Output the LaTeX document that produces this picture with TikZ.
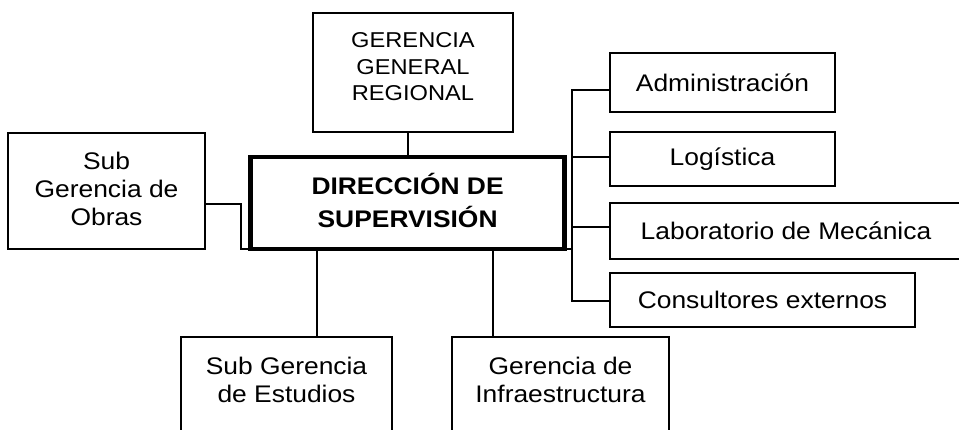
\documentclass[tikz,border=0pt]{standalone}
\usepackage{fontspec}
\setmainfont{Liberation Sans}[FakeStretch=1.1]
\usetikzlibrary{positioning}

\tikzset{
  unitbox/.style={draw, line width=1.8pt, outer sep=0pt, inner sep=0pt, align=center,
    font=\fontsize{24}{28}\selectfont},
  headbox/.style={unitbox, line width=4.5pt, font=\bfseries\fontsize{24}{33}\selectfont},
  link/.style={line width=1.8pt}
}

\begin{document}
\begin{tikzpicture}[x=1pt, y=-1pt]
		\clip (0,0) rectangle (959,429);
		\useasboundingbox (0,0) rectangle (959,429);

		% central unit and the units around it
		\node[headbox, minimum width=314, minimum height=92, text depth=5pt] (dir) at (407.6,203) {DIRECCIÓN DE\\SUPERVISIÓN};
		\node[unitbox, minimum width=200, minimum height=119, text depth=12pt,
		  font=\fontsize{21.5}{26.5}\selectfont] (ger) at (413,72.5) {GERENCIA\\GENERAL\\REGIONAL};
		\node[unitbox, minimum width=197, minimum height=116, text depth=5pt] (obras) at (106.5,191) {Sub\\Gerencia de\\Obras};
		\node[unitbox, minimum width=211, minimum height=110, text depth=24pt] (est) at (286.5,392) {Sub Gerencia\\de Estudios};
		\node[unitbox, minimum width=217, minimum height=110, text depth=24pt] (inf) at (560.5,392) {Gerencia de\\Infraestructura};

		% staff units on the right
		\node[unitbox, minimum width=225, minimum height=59] (adm) at (722.5,82.5) {Administración};
		\node[unitbox, minimum width=225, minimum height=54] (log) at (722.5,159) {Logística};
		\node[unitbox, minimum width=352, minimum height=56] (lab) at (786,231) {Laboratorio de Mecánica};
		\node[unitbox, minimum width=305, minimum height=54] (cons) at (762.5,300) {Consultores externos};

		\coordinate (bustop) at (572,90);
		\coordinate (busbot) at (572,301);

		\draw[link] (dir.north) -- (dir.north |- ger.south);
		\draw[link] ([yshift=-13pt]obras.east) -| ([xshift=-9.5pt]dir.south west) -- (dir.south west);
		\draw[link] ([xshift=30.5pt]est.north) -- ([xshift=30.5pt]est.north |- dir.south);
		\draw[link] ([xshift=-67.5pt]inf.north) -- ([xshift=-67.5pt]inf.north |- dir.south);

		\draw[link] (dir.south east) -- (dir.south east -| bustop);
		\draw[link] (adm.west |- bustop) -- (bustop) -- (busbot) -- (cons.west |- busbot);
		\draw[link] ([yshift=2pt]log.west) -- ([yshift=2pt]log.west -| bustop);
		\draw[link] ([yshift=4pt]lab.west) -- ([yshift=4pt]lab.west -| bustop);
\end{tikzpicture}
\end{document}
